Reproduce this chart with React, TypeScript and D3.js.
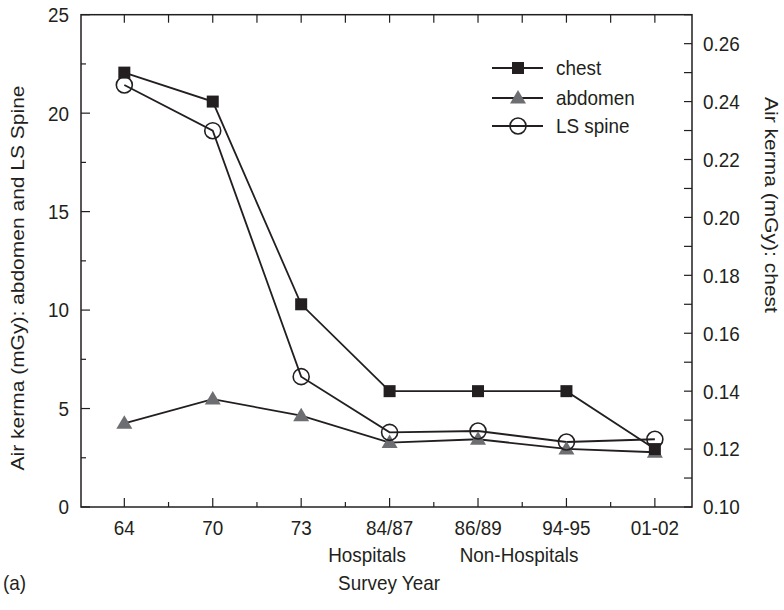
import React from "react";
import * as d3 from "d3";

const categories = ["64", "70", "73", "84/87", "86/89", "94-95", "01-02"];
const chest = [0.25, 0.24, 0.17, 0.14, 0.14, 0.14, 0.12];
const abdomen = [4.25, 5.48, 4.64, 3.27, 3.44, 2.95, 2.78];
const lsSpine = [21.43, 19.11, 6.62, 3.79, 3.86, 3.3, 3.44];
const leftTicks = [0, 5, 10, 15, 20, 25];
const leftMinor = [2.5, 7.5, 12.5, 17.5, 22.5];
const rightTicks = [0.1, 0.12, 0.14, 0.16, 0.18, 0.2, 0.22, 0.24, 0.26];
const rightMinor = [0.11, 0.13, 0.15, 0.17, 0.19, 0.21, 0.23, 0.25, 0.27];
const legendItems = ["chest", "abdomen", "LS spine"];

const W = 784;
const H = 610;
const L = 81, R = 692, T = 14.7, B = 507;
const INK = "#231f20";
const GRAY = "#6d6e71";
const FONT = "'Liberation Sans', Arial, sans-serif";
const FS = 21;
const SX = 0.9;

function Txt(props: { x: number; y: number; anchor?: string; children: React.ReactNode; rot?: number }) {
  const { x, y, anchor = "start", children, rot = 0 } = props;
  const tf = rot === 0
    ? `translate(${x},${y}) scale(${SX},1)`
    : `translate(${x},${y}) scale(${SX},1) rotate(${rot})`;
  return (
    <text transform={tf} textAnchor={anchor} dominantBaseline="central" fontSize={FS} fill={INK}>
      {children}
    </text>
  );
}

export default function App() {
  const x = d3.scaleLinear().domain([-0.49, 6.42]).range([L, R]);
  const yL = d3.scaleLinear().domain([0, 25]).range([B, T]);
  const yR = d3.scaleLinear().domain([0.1, 0.27]).range([B, T]);
  const idx = categories.map((_, i) => i);
  const minorX = idx.slice(0, -1).map((i) => i + 0.5);

  const line = d3.line<[number, number]>().x((d) => d[0]).y((d) => d[1]);
  const chestPts: [number, number][] = chest.map((v, i) => [x(i), yR(v)]);
  const abdPts: [number, number][] = abdomen.map((v, i) => [x(i), yL(v)]);
  const lsPts: [number, number][] = lsSpine.map((v, i) => [x(i), yL(v)]);

  const square = (cx: number, cy: number, k: string) => (
    <rect key={k} x={cx - 6} y={cy - 6} width={12} height={12} fill={INK} />
  );
  const tri = (cx: number, cy: number, k: string) => (
    <path key={k} d={`M${cx},${cy - 8}L${cx + 8},${cy + 5.5}L${cx - 8},${cy + 5.5}Z`} fill={GRAY} />
  );
  const circ = (cx: number, cy: number, k: string) => (
    <circle key={k} cx={cx} cy={cy} r={8} fill="none" stroke={INK} strokeWidth={1.6} />
  );

  const legY = [68, 98, 126];
  const markers = [square, tri, circ];

  return (
    <svg width={W} height={H} style={{ position: "absolute", left: 0, top: 0 }} fontFamily={FONT}>
      <rect width={W} height={H} fill="#fff" />
      <rect x={L} y={T} width={R - L} height={B - T} fill="none" stroke={INK} strokeWidth={1.5} />
      {idx.map((i) => (
        <g key={"xt" + i}>
          <line x1={x(i)} x2={x(i)} y1={B} y2={B - 9} stroke={INK} strokeWidth={1.2} />
          <line x1={x(i)} x2={x(i)} y1={T} y2={T + 8} stroke={INK} strokeWidth={1.2} />
          <Txt x={x(i)} y={528} anchor="middle">{categories[i]}</Txt>
        </g>
      ))}
      {minorX.map((m) => (
        <g key={"xm" + m}>
          <line x1={x(m)} x2={x(m)} y1={B} y2={B - 5} stroke={INK} strokeWidth={1.2} />
          <line x1={x(m)} x2={x(m)} y1={T} y2={T + 8} stroke={INK} strokeWidth={1.2} />
        </g>
      ))}
      {leftTicks.map((v) => (
        <g key={"yl" + v}>
          <line x1={L} x2={L + 9} y1={yL(v)} y2={yL(v)} stroke={INK} strokeWidth={1.2} />
          <Txt x={L - 12} y={yL(v)} anchor="end">{v}</Txt>
        </g>
      ))}
      {leftMinor.map((v) => (
        <line key={"ylm" + v} x1={L} x2={L + 5} y1={yL(v)} y2={yL(v)} stroke={INK} strokeWidth={1.2} />
      ))}
      {rightTicks.map((v) => (
        <g key={"yr" + v}>
          <line x1={R} x2={R - 8} y1={yR(v)} y2={yR(v)} stroke={INK} strokeWidth={1.2} />
          <Txt x={R + 11} y={yR(v)}>{d3.format(".2f")(v)}</Txt>
        </g>
      ))}
      {rightMinor.map((v) => (
        <line key={"yrm" + v} x1={R} x2={R - 8} y1={yR(v)} y2={yR(v)} stroke={INK} strokeWidth={1.2} />
      ))}
      <path d={line(abdPts) || ""} fill="none" stroke={INK} strokeWidth={1.8} />
      <path d={line(lsPts) || ""} fill="none" stroke={INK} strokeWidth={1.8} />
      <path d={line(chestPts) || ""} fill="none" stroke={INK} strokeWidth={1.8} />
      {abdPts.map((p, i) => tri(p[0], p[1], "a" + i))}
      {lsPts.map((p, i) => circ(p[0], p[1], "l" + i))}
      {chestPts.map((p, i) => square(p[0], p[1], "c" + i))}
      {legendItems.map((name, i) => (
        <g key={"lg" + i}>
          <line x1={492} x2={543} y1={legY[i]} y2={legY[i]} stroke={INK} strokeWidth={1.8} />
          {markers[i](518, legY[i], "lm" + i)}
          <Txt x={556} y={legY[i]}>{name}</Txt>
        </g>
      ))}
      <Txt x={367} y={555} anchor="middle">Hospitals</Txt>
      <Txt x={519} y={555} anchor="middle">Non-Hospitals</Txt>
      <Txt x={389} y={583} anchor="middle">Survey Year</Txt>
      <Txt x={3} y={583}>(a)</Txt>
      <Txt x={17} y={278} anchor="middle" rot={-90}>Air kerma (mGy): abdomen and LS Spine</Txt>
      <Txt x={772} y={205} anchor="middle" rot={90}>Air kerma (mGy): chest</Txt>
    </svg>
  );
}
